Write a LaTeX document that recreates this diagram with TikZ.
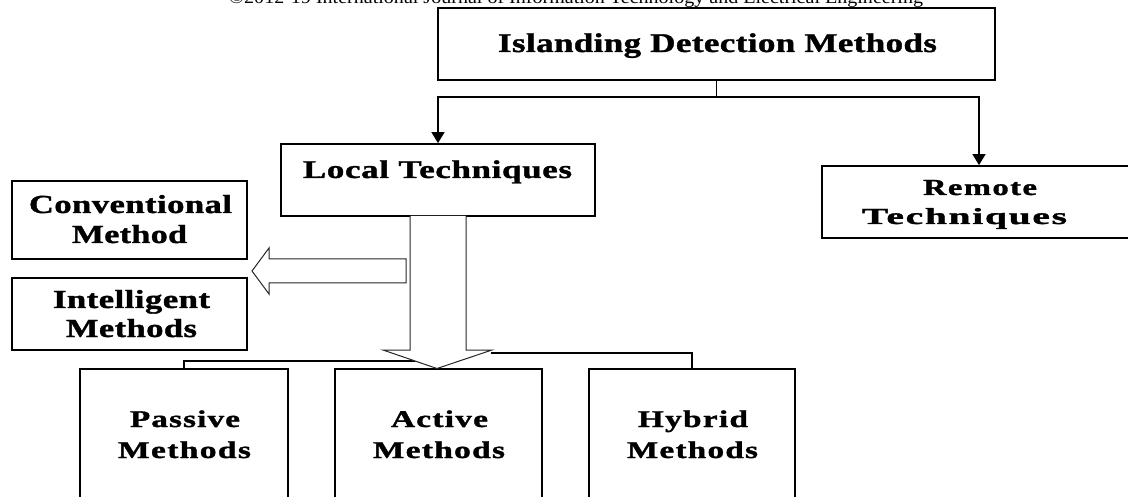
\documentclass[tikz,border=0pt]{standalone}
\usepackage{fontspec}
\setmainfont{Liberation Serif}
\usetikzlibrary{arrows.meta}
\newcommand{\tx}[4]{\fontsize{#1}{#1}\selectfont\bfseries\addfontfeatures{LetterSpace=#2,FakeBold=1.2}\resizebox{#3pt}{\height}{#4}}
\tikzset{
  box/.style={draw=black, line width=1.8pt, fill=white, inner sep=0pt},
  lbl/.style={anchor=base, inner sep=0pt, outer sep=0pt},
  conn/.style={draw=black, line width=1.4pt},
  arr/.style={conn, -{Triangle[width=13pt,length=11pt]}},
  hollow/.style={draw=black!85, line width=1pt, fill=white, line join=miter}
}
\begin{document}
\begin{tikzpicture}[x=1pt,y=-1pt]
\useasboundingbox (0,0) rectangle (1128,497);
\clip (0,0) rectangle (1128,497);
% header
\node[lbl] (hdr) at (576,3.5) {\fontsize{18}{18}\selectfont\resizebox{694pt}{\height}{©2012-19 International Journal of Information Technology and Electrical Engineering}};
% boxes
\node[box, minimum width=557pt, minimum height=72pt] (top) at (716.5,44) {};
\node[box, minimum width=314pt, minimum height=72pt] (local) at (438,180) {};
\node[box, minimum width=318pt, minimum height=72pt] (remote) at (981,202) {};
\node[box, minimum width=235pt, minimum height=78pt] (conv) at (129.5,220) {};
\node[box, minimum width=235pt, minimum height=72pt] (intel) at (129.5,314) {};
\node[box, minimum width=208pt, minimum height=160pt] (passive) at (184,449) {};
\node[box, minimum width=207pt, minimum height=160pt] (active) at (438.5,449) {};
\node[box, minimum width=206pt, minimum height=160pt] (hybrid) at (692,449) {};
% texts
\node[lbl] (t1) at (717.5,52) {\tx{27}{1.2}{439}{Islanding Detection Methods}};
\node[lbl] (t2) at (437.5,178) {\tx{25.5}{2}{269}{Local Techniques}};
\node[lbl] (t3a) at (980,195) {\tx{23}{4.5}{114}{Remote}};
\node[lbl] (t3b) at (964.5,224) {\tx{23}{4.5}{205}{Techniques}};
\node[lbl] (t4a) at (130.5,213) {\tx{26}{1.5}{203}{Conventional}};
\node[lbl] (t4b) at (129.5,243) {\tx{26}{1.3}{115}{Method}};
\node[lbl] (t5a) at (131.5,308) {\tx{26}{1.4}{157}{Intelligent}};
\node[lbl] (t5b) at (131.5,337) {\tx{26}{1.5}{131}{Methods}};
\node[lbl] (t6a) at (185,427) {\tx{24}{3.5}{110}{Passive}};
\node[lbl] (t6b) at (184.5,458) {\tx{24}{4}{133}{Methods}};
\node[lbl] (t7a) at (439.5,427) {\tx{24}{3.8}{97}{Active}};
\node[lbl] (t7b) at (439,458) {\tx{24}{4}{132}{Methods}};
\node[lbl] (t8a) at (693,427) {\tx{24}{4}{110}{Hybrid}};
\node[lbl] (t8b) at (692.5,458) {\tx{24}{4}{131}{Methods}};
% top connectors
\coordinate (jl) at (438,97);
\coordinate (jr) at (979,97);
\draw[conn] (top.south) -- (top.south |- jl);
\draw[arr] (top.south |- jl) -- (jl) -- (local.north);
\draw[arr] (top.south |- jr) -- (jr) -- (jr |- remote.north);
% bottom branch lines
\coordinate (pl) at (184,361);
\coordinate (hr) at (692,353);
\draw[conn] (437,361) -- (pl) -- (pl |- passive.north);
\draw[conn] (491,353) -- (hr) -- (hr |- hybrid.north);
% hollow down arrow
\draw[hollow] (410,216) -- (410,350) -- (383,350) -- (437,368.5) -- (492,350) -- (466,350) -- (466,216);
% hollow left arrow
\draw[hollow] (406,259) -- (269,259) -- (269,248) -- (252,271) -- (269,294) -- (269,283) -- (406,283) -- cycle;
\end{tikzpicture}
\end{document}
